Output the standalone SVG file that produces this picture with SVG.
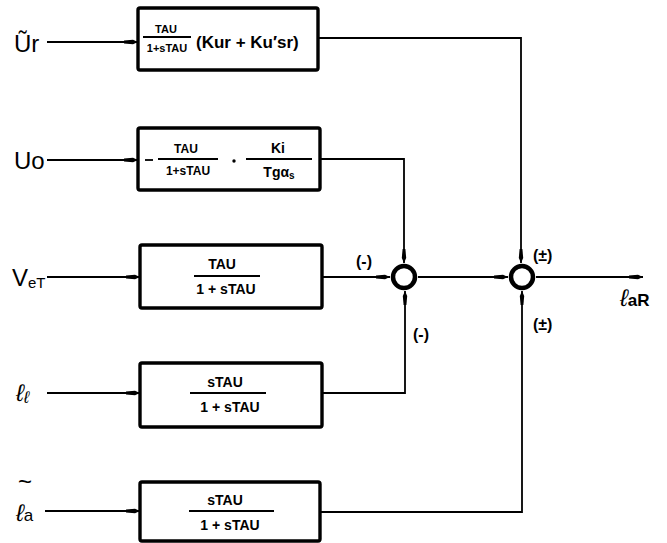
<svg xmlns="http://www.w3.org/2000/svg" width="667" height="543" viewBox="0 0 667 543">
<defs>
<marker id="arr" markerUnits="userSpaceOnUse" markerWidth="16" markerHeight="8" refX="14" refY="4" orient="auto">
<path d="M0,2.6 L9,1.8 L14,4 L9,6.2 L0,5.4 z" fill="#000"/>
</marker>
<style>
.box{fill:#fff;stroke:#000;stroke-width:3.4}
.ln{fill:none;stroke:#000;stroke-width:1.8}
.sum{fill:#fff;stroke:#000;stroke-width:4.5}
.t{font-family:"Liberation Sans",Arial,sans-serif;font-weight:bold;fill:#000}
.lbl{font-family:"Liberation Sans",Arial,sans-serif;fill:#000;font-size:24px}
.sg{font-family:"Liberation Sans",Arial,sans-serif;font-weight:bold;fill:#000;font-size:16px}
.bar{stroke:#000;stroke-width:1.8}
</style>
</defs>
<rect width="667" height="543" fill="#fff"/>

<g id="connectors">
<line class="ln" x1="47" y1="42" x2="138" y2="42" marker-end="url(#arr)"/>
<line class="ln" x1="47" y1="160" x2="138" y2="160" marker-end="url(#arr)"/>
<line class="ln" x1="47" y1="277" x2="140" y2="277" marker-end="url(#arr)"/>
<line class="ln" x1="47" y1="393" x2="140" y2="393" marker-end="url(#arr)"/>
<line class="ln" x1="45" y1="511" x2="140" y2="511" marker-end="url(#arr)"/>
<polyline class="ln" points="318,38 521,38 521,263" marker-end="url(#arr)"/>
<polyline class="ln" points="320,159 404,159 404,263" marker-end="url(#arr)"/>
<line class="ln" x1="322" y1="277" x2="390" y2="277" marker-end="url(#arr)"/>
<polyline class="ln" points="322,393 405,393 405,291" marker-end="url(#arr)"/>
<line class="ln" x1="418" y1="277" x2="508" y2="277" marker-end="url(#arr)"/>
<polyline class="ln" points="320,512 522,512 522,291" marker-end="url(#arr)"/>
<line class="ln" x1="536" y1="277" x2="643" y2="277" marker-end="url(#arr)"/>
</g>

<g id="in-ur"><text class="lbl" x="14" y="52">Ũr</text></g>
<g id="in-uo"><text class="lbl" x="14" y="169">Uo</text></g>
<g id="in-vet"><text class="lbl" x="12" y="286">V<tspan font-size="15" dy="2">eT</tspan></text></g>
<g id="in-ll"><text class="lbl" x="16" y="401" font-style="italic">ℓ<tspan font-size="17" dy="2">ℓ</tspan></text></g>
<g id="in-la">
<text class="lbl" x="16" y="521" font-style="italic">ℓ<tspan font-size="17" font-style="normal">a</tspan></text>
<text class="lbl" x="18" y="490" font-size="15">~</text>
</g>

<g id="block1">
<rect class="box" x="138" y="8" width="180" height="62" rx="2"/>
<text class="t" x="166" y="33" font-size="11" text-anchor="middle">TAU</text>
<line class="bar" x1="143" y1="37" x2="191" y2="37"/>
<text class="t" x="167" y="52" font-size="11" text-anchor="middle">1+sTAU</text>
<text class="t" x="196" y="48" font-size="17">(Kur + Ku′sr)</text>
</g>

<g id="block2">
<rect class="box" x="138" y="128" width="182" height="62" rx="2"/>
<line class="bar" x1="145" y1="160" x2="153" y2="160"/>
<text class="t" x="186" y="153" font-size="12" text-anchor="middle">TAU</text>
<line class="bar" x1="158" y1="159" x2="218" y2="159"/>
<text class="t" x="188" y="175" font-size="12" text-anchor="middle">1+sTAU</text>
<circle cx="234" cy="161" r="1.7" fill="#000"/>
<text class="t" x="278" y="153" font-size="14" text-anchor="middle">Ki</text>
<line class="bar" x1="246" y1="159" x2="312" y2="159"/>
<text class="t" x="279" y="177" font-size="14" text-anchor="middle">Tgα<tspan font-size="10" dy="2">s</tspan></text>
</g>

<g id="block3">
<rect class="box" x="140" y="245" width="182" height="63" rx="2"/>
<text class="t" x="222" y="269" font-size="14" text-anchor="middle">TAU</text>
<line class="bar" x1="194" y1="276" x2="260" y2="276"/>
<text class="t" x="226" y="294" font-size="14" text-anchor="middle">1 + sTAU</text>
</g>

<g id="block4">
<rect class="box" x="140" y="363" width="182" height="64" rx="2"/>
<text class="t" x="225" y="387" font-size="14" text-anchor="middle">sTAU</text>
<line class="bar" x1="190" y1="393" x2="266" y2="393"/>
<text class="t" x="230" y="412" font-size="14" text-anchor="middle">1 + sTAU</text>
</g>

<g id="block5">
<rect class="box" x="140" y="482" width="180" height="59" rx="2"/>
<text class="t" x="225" y="505" font-size="14" text-anchor="middle">sTAU</text>
<line class="bar" x1="189" y1="511" x2="274" y2="511"/>
<text class="t" x="230" y="530" font-size="14" text-anchor="middle">1 + sTAU</text>
</g>

<g id="sum1">
<circle class="sum" cx="404" cy="277" r="11"/>
<text class="sg" x="356" y="267">(-)</text>
<text class="sg" x="413" y="340">(-)</text>
</g>

<g id="sum2">
<circle class="sum" cx="522" cy="277" r="11"/>
<text class="sg" x="533" y="261">(±)</text>
<text class="sg" x="533" y="330">(±)</text>
</g>

<g id="out">
<text class="lbl" x="620" y="306" font-style="italic" font-size="26">ℓ<tspan font-size="17" font-style="normal" font-weight="bold">aR</tspan></text>
</g>
</svg>
